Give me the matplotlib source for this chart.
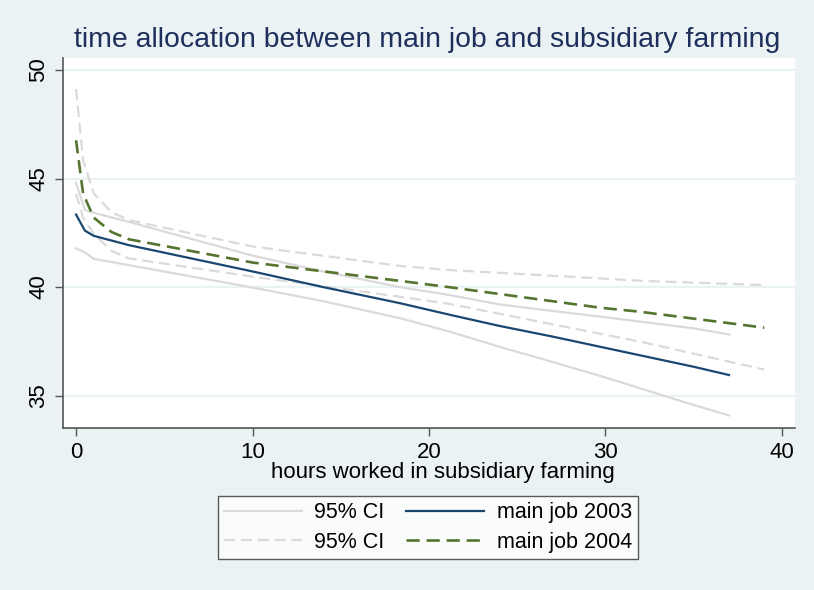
import matplotlib
matplotlib.use("Agg")
import matplotlib.pyplot as plt

plt.rcParams['font.family'] = ['Liberation Sans', 'DejaVu Sans']

# hours worked in subsidiary farming
hours_2003 = [0, 0.5, 1, 3, 10, 14, 18.4, 21.2, 24, 27, 29.7, 35, 37]
hours_2004 = [0, 0.4, 1, 2, 3, 10, 18.4, 21.2, 29.7, 32, 39]

# main job hours, 2003: fit and 95% CI
fit_2003 = [43.34, 42.6, 42.36, 41.93, 40.72, 40.0, 39.25, 38.72, 38.21, 37.72, 37.25, 36.33, 35.95]
ci_hi_2003 = [44.8, 43.55, 43.42, 43.0, 41.45, 40.72, 39.99, 39.63, 39.2, 38.9, 38.64, 38.1, 37.82]
ci_lo_2003 = [41.78, 41.6, 41.3, 41.01, 39.98, 39.35, 38.56, 37.94, 37.25, 36.55, 35.91, 34.57, 34.09]

# main job hours, 2004: fit and 95% CI
fit_2004 = [46.76, 44.3, 43.2, 42.54, 42.2, 41.13, 40.28, 39.99, 39.05, 38.86, 38.13]
ci_hi_2004 = [49.12, 45.84, 44.32, 43.45, 43.08, 41.87, 40.97, 40.78, 40.4, 40.29, 40.09]
ci_lo_2004 = [44.3, 43.2, 42.45, 41.67, 41.32, 40.48, 39.55, 39.22, 37.85, 37.48, 36.2]

legend_labels = ["95% CI", "95% CI", "main job 2003", "main job 2004"]
x_ticks = [0, 10, 20, 30, 40]
y_ticks = [35, 40, 45, 50]

BG = "#EAF2F3"
CI_COLOR = "#DADADA"
BLUE = "#1A476F"
GREEN = "#55752F"

fig = plt.figure(figsize=(8.14, 5.90), dpi=100, facecolor=BG)
ax = fig.add_axes([63 / 814, 1 - 428 / 590, (795 - 63) / 814, (428 - 58) / 590])
ax.set_facecolor("white")

dash = (0, (5, 2.6))
l1, = ax.plot(hours_2003, ci_hi_2003, color=CI_COLOR, lw=1.6, solid_joinstyle="round")
ax.plot(hours_2003, ci_lo_2003, color=CI_COLOR, lw=1.6, solid_joinstyle="round")
l2, = ax.plot(hours_2004, ci_hi_2004, color=CI_COLOR, lw=1.6, linestyle=dash)
ax.plot(hours_2004, ci_lo_2004, color=CI_COLOR, lw=1.6, linestyle=dash)
l3, = ax.plot(hours_2003, fit_2003, color=BLUE, lw=1.6, solid_joinstyle="round")
l4, = ax.plot(hours_2004, fit_2004, color=GREEN, lw=1.9, linestyle=dash)

ax.set_xlim(-0.74, 40.74)
ax.set_ylim(33.51, 50.55)
ax.set_xticks(x_ticks)
ax.set_yticks(y_ticks)
ax.set_yticklabels([str(v) for v in y_ticks], rotation=90, va="center")
ax.tick_params(axis="both", direction="out", length=6, width=1, color="#555555",
               labelsize=16, labelcolor="black", pad=4)
ax.grid(axis="y", color=BG, lw=1.6)
ax.grid(axis="x", visible=False)
ax.set_axisbelow(True)
for s in ("top", "right"):
    ax.spines[s].set_visible(False)
for s in ("left", "bottom"):
    ax.spines[s].set_color("#555555")
    ax.spines[s].set_linewidth(1.2)

ax.set_xlabel("hours worked in subsidiary farming", fontsize=16)
ax.xaxis.set_label_coords(0.519, -0.093)
fig.text(0.525, 1 - 40 / 590, "time allocation between main job and subsidiary farming",
         ha="center", va="center", fontsize=20.4, color="#1E2F5C")

leg = fig.legend([l1, l2, l3, l4], legend_labels, ncol=2,
                 loc="center", bbox_to_anchor=(428 / 814, 1 - 527.5 / 590),
                 fontsize=15.5, frameon=True, fancybox=False, handlelength=3.6,
                 handletextpad=0.6, columnspacing=1.0, labelspacing=0.4,
                 borderpad=0.3, edgecolor="#333333")
leg.get_frame().set_linewidth(1.0)

fig.savefig("out.png", dpi=100, facecolor=BG)
